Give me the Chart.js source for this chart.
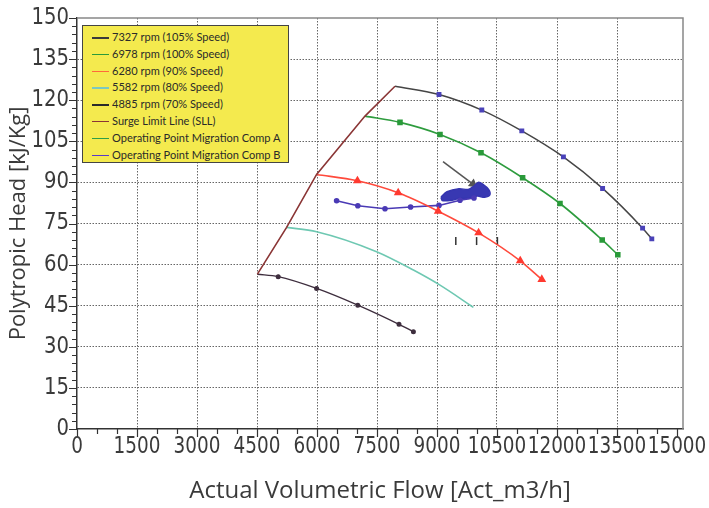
<!DOCTYPE html>
<html><head><meta charset="utf-8">
<script src="https://cdn.jsdelivr.net/npm/chart.js@4/dist/chart.umd.min.js"></script>
<style>
html,body{margin:0;padding:0;background:#fff;}
#wrap{position:relative;width:709px;height:508px;}
#legend{position:absolute;left:82px;top:25px;width:207px;height:138px;background:#f4ea4e;border:1px solid #444;box-sizing:border-box;font-family:Lato,'Open Sans',sans-serif;font-size:12px;color:#2a2a2a;padding-top:3px;}
.item{height:16.8px;line-height:16.8px;position:relative;white-space:nowrap}
.item .sw{position:absolute;left:9px;top:8px;width:17px;height:1.5px}
.item .tx{position:absolute;left:29px;top:0;transform:scaleX(0.92);transform-origin:0 50%}
</style></head>
<body><div id="wrap"><canvas id="c" width="709" height="508"></canvas><div id="legend"></div></div>
<script>
// ---- data ----
const xTickLabels = [0,1500,3000,4500,6000,7500,9000,10500,12000,13500,15000];
const yTickLabels = [0,15,30,45,60,75,90,105,120,135,150];

const flow7327 = [7950, 9050, 10120, 11120, 12160, 13140, 14140, 14370];
const head7327 = [125.1, 122.1, 116.4, 108.8, 99.3, 87.8, 73.3, 69.4];

const flow6978 = [7200, 8075, 9075, 10100, 11140, 12075, 13130, 13520];
const head6978 = [114.2, 111.9, 107.5, 100.8, 91.7, 82.3, 69.0, 63.6];

const flow6280 = [5990, 7010, 8030, 9030, 10040, 11080, 11620];
const head6280 = [92.9, 90.6, 86.2, 79.5, 71.6, 61.4, 54.6];

const flow5582 = [5240, 5990, 7490, 8410, 9075, 9910];
const head5582 = [73.6, 72.0, 64.7, 58.0, 52.5, 44.4];

const flow4885 = [4510, 5030, 5990, 7020, 8050, 8410];
const head4885 = [56.5, 55.6, 51.3, 45.2, 38.2, 35.5];

const flowSLL = [4510, 5240, 5990, 7200, 7950];
const headSLL = [56.5, 73.6, 92.9, 114.2, 125.1];

const flowCompB = [6490, 7020, 7700, 8340, 9050, 9575, 9925];
const headCompB = [83.3, 81.5, 80.4, 81.0, 81.6, 83.5, 84.3];

const flowBlob = [9100, 9250, 9550, 9780, 9920, 10030, 10150, 10290, 10320, 10190, 10010, 9830, 9580, 9330, 9130, 9100];
const headBlob = [84.6, 86.6, 87.7, 87.4, 88.6, 90.0, 89.3, 87.4, 85.4, 84.6, 85.0, 84.2, 84.2, 83.4, 83.4, 84.6];

const flowArrow = [9150, 9900];
const headArrow = [97.6, 89.4];

const flowMarks = [9470, 9990, 10510];
const headMarks = [68.6, 68.6, 68.6];

const legendLabels = ['7327 rpm (105% Speed)','6978 rpm (100% Speed)','6280 rpm (90% Speed)','5582 rpm (80%  Speed)','4885 rpm (70%  Speed)','Surge Limit Line (SLL)','Operating Point Migration Comp A','Operating Point Migration Comp B'];
const legendColors = ['#3a3a3a','#2a9a3a','#ff6a3a','#7cc8c0','#2a2a2a','#8a3535','#2e9e48','#5a3ac8'];

// ---- helpers ----
const pts = (xs, ys) => xs.map((x, i) => ({x, y: ys[i]}));
const noFirst = r => ctx => ctx.dataIndex === 0 ? 0 : r;

const lg = document.getElementById('legend');
legendLabels.forEach((t, i) => {
  const d = document.createElement('div'); d.className = 'item';
  d.innerHTML = '<span class="sw" style="background:' + legendColors[i] + '"></span><span class="tx"></span>';
  d.querySelector('.tx').textContent = t;
  lg.appendChild(d);
});

const TICKFONT = "23px 'Liberation Sans Narrow','DejaVu Sans Condensed',sans-serif";
const TITLEFONT = "'Open Sans',sans-serif";

const framePlugin = {
  id: 'frame',
  afterDraw(chart) {
    const {ctx, chartArea: a, scales: {x, y}} = chart;
    ctx.save();
    ctx.strokeStyle = '#888'; ctx.lineWidth = 1.5;
    ctx.beginPath(); ctx.moveTo(a.left, a.top); ctx.lineTo(a.right, a.top); ctx.lineTo(a.right, a.bottom); ctx.stroke();
    ctx.strokeStyle = '#333'; ctx.lineWidth = 1.2;
    ctx.beginPath();
    for (let v = 0; v <= 15000; v += 500) {
      const px = Math.round(x.getPixelForValue(v)) + 0.5;
      const len = v % 1500 === 0 ? 8 : 5;
      ctx.moveTo(px, a.bottom); ctx.lineTo(px, a.bottom + len);
    }
    for (let v = 0; v <= 150; v += 3) {
      const py = Math.round(y.getPixelForValue(v)) + 0.5;
      const len = v % 15 === 0 ? 8 : 5;
      ctx.moveTo(a.left, py); ctx.lineTo(a.left - len, py);
    }
    ctx.stroke();
    // tick labels (tall, condensed)
    ctx.font = TICKFONT; ctx.fillStyle = '#3a3a3a'; ctx.textBaseline = 'middle';
    xTickLabels.forEach(v => {
      ctx.save(); ctx.translate(x.getPixelForValue(v), a.bottom + 18); ctx.scale(0.89, 1);
      ctx.textAlign = 'center'; ctx.fillText(String(v), 0, 0); ctx.restore();
    });
    yTickLabels.forEach(v => {
      ctx.save(); ctx.translate(a.left - 8, y.getPixelForValue(v)); ctx.scale(0.95, 1);
      ctx.textAlign = 'right'; ctx.fillText(String(v), 0, 0); ctx.restore();
    });
    ctx.restore();
  }
};

new Chart(document.getElementById('c'), {
  type: 'scatter',
  data: {
    datasets: [
      {data: pts(flowSLL, headSLL), showLine: true, borderColor: '#8a3535', borderWidth: 1.6, pointRadius: 0, tension: 0},
      {data: pts(flow7327, head7327), showLine: true, borderColor: '#454545', borderWidth: 1.5, cubicInterpolationMode: 'monotone',
        pointStyle: 'rect', pointRadius: noFirst(2.4), pointBackgroundColor: '#4a42b8', pointBorderColor: '#4a42b8'},
      {data: pts(flow6978, head6978), showLine: true, borderColor: '#2e9c3e', borderWidth: 1.6, cubicInterpolationMode: 'monotone',
        pointStyle: 'rect', pointRadius: noFirst(2.8), pointBackgroundColor: '#2a9a3a', pointBorderColor: '#2a9a3a'},
      {data: pts(flow6280, head6280), showLine: true, borderColor: '#ff4a3c', borderWidth: 1.6, cubicInterpolationMode: 'monotone',
        pointStyle: 'triangle', pointRadius: noFirst(3.5), pointBackgroundColor: '#ff3a30', pointBorderColor: '#ff3a30'},
      {data: pts(flow5582, head5582), showLine: true, borderColor: '#6ec8b2', borderWidth: 1.6, cubicInterpolationMode: 'monotone', pointRadius: 0},
      {data: pts(flow4885, head4885), showLine: true, borderColor: '#3e2e3e', borderWidth: 1.4, cubicInterpolationMode: 'monotone',
        pointRadius: noFirst(1.8), pointBackgroundColor: '#3e2e3e', pointBorderColor: '#3e2e3e'},
      {data: pts(flowCompB, headCompB), showLine: true, borderColor: '#4a3ab5', borderWidth: 1.6, tension: 0,
        pointRadius: 2, pointBackgroundColor: '#4a3ab5', pointBorderColor: '#4a3ab5'},
      {data: pts(flowBlob, headBlob), showLine: true, borderColor: '#3535b0', backgroundColor: '#3838b2', borderWidth: 1.5, tension: 0.3, fill: 'shape', pointRadius: 0},
      {data: pts(flowArrow, headArrow), showLine: true, borderColor: '#555', borderWidth: 1.5, pointStyle: 'triangle', rotation: 128,
        pointRadius: ctx => ctx.dataIndex === 1 ? 4 : 0, pointBackgroundColor: '#555', pointBorderColor: '#555'},
      {data: pts(flowMarks, headMarks), showLine: false, pointStyle: 'line', rotation: 90, pointRadius: 4, borderColor: '#333', pointBorderColor: '#333', pointBorderWidth: 1.5}
    ]
  },
  options: {
    responsive: false, animation: false, devicePixelRatio: 1,
    layout: {padding: {top: 18, right: 26, left: 0, bottom: 0}},
    plugins: {legend: {display: false}, tooltip: {enabled: false}},
    scales: {
      x: {
        type: 'linear', min: 0, max: 15150,
        afterBuildTicks: s => { s.ticks = xTickLabels.map(v => ({value: v})); },
        afterFit: s => { s.height = 79; s.paddingLeft = 0; s.paddingRight = 0; },
        ticks: {display: false},
        grid: {color: c => (c.tick && c.tick.value > 0 && c.tick.value < 15000) ? '#666' : 'rgba(0,0,0,0)', lineWidth: 1, drawTicks: false},
        border: {display: true, color: '#333', width: 1.5, dash: [1.5, 1.5]},
        title: {display: true, text: 'Actual Volumetric Flow [Act_m3/h]', font: {family: TITLEFONT, size: 24}, color: '#3a3a3a', padding: {top: 0, bottom: 2}}
      },
      y: {
        type: 'linear', min: 0, max: 150,
        afterBuildTicks: s => { s.ticks = yTickLabels.map(v => ({value: v})); },
        afterFit: s => { s.width = 77; s.paddingTop = 0; s.paddingBottom = 0; },
        ticks: {display: false},
        grid: {color: c => (c.tick && c.tick.value > 0 && c.tick.value < 150) ? '#666' : 'rgba(0,0,0,0)', lineWidth: 1, drawTicks: false},
        border: {display: true, color: '#333', width: 1.5, dash: [1.5, 1.5]},
        title: {display: true, text: 'Polytropic Head [kJ/Kg]', font: {family: TITLEFONT, size: 22}, color: '#3a3a3a', padding: {top: 6, bottom: 0}}
      }
    }
  },
  plugins: [framePlugin]
});
</script>
</body></html>
